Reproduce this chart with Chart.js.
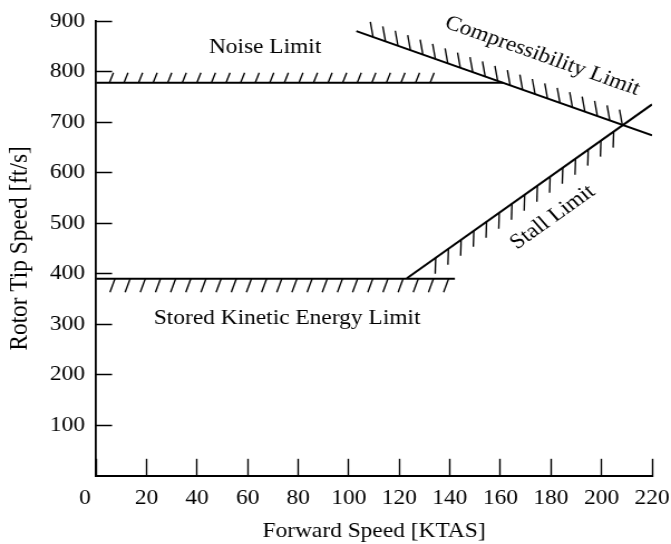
<!DOCTYPE html>
<html><head><meta charset="utf-8">
<script src="https://cdn.jsdelivr.net/npm/chart.js@4"></script>
<style>html,body{margin:0;padding:0;background:#fff;overflow:hidden}</style>
</head><body>
<canvas id="c" width="602" height="544" style="width:671px;height:544px;display:block"></canvas>
<script>
// ---- data ----
const xTicks = [0, 20, 40, 60, 80, 100, 120, 140, 160, 180, 200, 220];
const yTicks = [100, 200, 300, 400, 500, 600, 700, 800, 900];
const xTitle = 'Forward Speed [KTAS]';
const yTitle = 'Rotor Tip Speed [ft/s]';

const noiseLimit    = [{x: 0, y: 778}, {x: 161, y: 778}];
const compressLimit = [{x: 103, y: 880}, {x: 220, y: 674}];
const stallLimit    = [{x: 123, y: 391}, {x: 220, y: 735}];
const storedLimit   = [{x: 0, y: 390}, {x: 142, y: 390}];

// hatch extents along each limit (x range in KTAS, number of marks)
const noiseHatch    = {from: 5.3,   to: 132.2, count: 23};
const compressHatch = {from: 109.6, to: 208.2, count: 21};
const stallHatch    = {from: 134.4, to: 204.8, count: 15};
const storedHatch   = {from: 7.5,   to: 139.5, count: 23};

const labelNames = ['Noise Limit', 'Compressibility Limit', 'Stall Limit', 'Stored Kinetic Energy Limit'];
const labelAnchors = [{x: 66.9, y: 836}, {x: 175.7, y: 820.6}, {x: 182.2, y: 503}, {x: 75.6, y: 300}];

// ---- style ----
const SX = 671 / 602;           // horizontal stretch of the drawing
const FONT = '"Liberation Serif", "Times New Roman", serif';
const FS = 21;
const X_TICK_LEN = -17, X_TICK_PAD = 27;

const limits = [
  {pts: noiseLimit,    hatch: noiseHatch,    dx: 4,    dy: -10},
  {pts: compressLimit, hatch: compressHatch, dx: -2.7, dy: -15},
  {pts: stallLimit,    hatch: stallHatch,    dx: -0.5, dy: 16},
  {pts: storedLimit,   hatch: storedHatch,   dx: -5,   dy: 13.5}
];
const labelAlong = [null, compressLimit, stallLimit, null];

const decor = {
  id: 'decor',
  afterDatasetsDraw(chart) {
    const {ctx, scales: {x, y}} = chart;
    ctx.save();
    ctx.strokeStyle = '#000';
    ctx.lineWidth = 1.35;
    limits.forEach(L => {
      const [p0, p1] = L.pts;
      const n = L.hatch.count;
      for (let i = 0; i < n; i++) {
        const xv = L.hatch.from + (L.hatch.to - L.hatch.from) * i / (n - 1);
        const yv = p0.y + (p1.y - p0.y) * (xv - p0.x) / (p1.x - p0.x);
        const px = x.getPixelForValue(xv), py = y.getPixelForValue(yv);
        ctx.beginPath();
        ctx.moveTo(px, py);
        ctx.lineTo(px + L.dx / SX, py + L.dy);
        ctx.stroke();
      }
    });
    ctx.fillStyle = '#000';
    ctx.font = FS + 'px ' + FONT;
    ctx.textAlign = 'center';
    ctx.textBaseline = 'alphabetic';
    labelNames.forEach((t, i) => {
      const a = labelAnchors[i];
      const px = x.getPixelForValue(a.x), py = y.getPixelForValue(a.y);
      let ang = 0;
      const along = labelAlong[i];
      if (along) {
        const ax0 = x.getPixelForValue(along[0].x), ay0 = y.getPixelForValue(along[0].y);
        const ax1 = x.getPixelForValue(along[1].x), ay1 = y.getPixelForValue(along[1].y);
        ang = Math.atan2(ay1 - ay0, ax1 - ax0);
      }
      ctx.save();
      ctx.translate(px, py);
      ctx.rotate(ang);
      ctx.fillText(t, 0, 0);
      ctx.restore();
    });
    // origin label of the x axis, set slightly left of the corner
    ctx.textBaseline = 'middle';
    ctx.fillText(String(xTicks[0]), x.getPixelForValue(xTicks[0]) - 11 / SX,
      x.top + X_TICK_LEN + X_TICK_PAD + FS * 1.2 / 2);
    ctx.restore();
  }
};

const ds = (data) => ({data, borderColor: '#000', borderWidth: 2, pointRadius: 0, fill: false, tension: 0});

new Chart(document.getElementById('c'), {
  type: 'line',
  data: {datasets: [ds(noiseLimit), ds(compressLimit), ds(stallLimit), ds(storedLimit)]},
  options: {
    responsive: false,
    animation: false,
    devicePixelRatio: 1,
    layout: {padding: {top: 21, right: 17, bottom: 0, left: 0}},
    plugins: {legend: {display: false}, tooltip: {enabled: false}},
    scales: {
      x: {
        type: 'linear', min: 0, max: 220,
        afterBuildTicks: s => { s.ticks = xTicks.map(v => ({value: v})); },
        afterFit: s => { s.height = 68.2; s.paddingLeft = 0; s.paddingRight = 0; },
        ticks: {
          callback: v => (v === xTicks[0] ? '' : String(v)),
          font: {family: FONT, size: FS}, color: '#000', padding: X_TICK_PAD,
          maxRotation: 0, autoSkip: false
        },
        grid: {drawOnChartArea: false, drawTicks: true, tickLength: X_TICK_LEN, tickWidth: 1.4, tickColor: '#000'},
        border: {display: true, width: 2, color: '#000'},
        title: {display: true, text: xTitle, color: '#000', font: {family: FONT, size: FS, lineHeight: 1}, padding: {top: 0, bottom: 2.5}}
      },
      y: {
        type: 'linear', min: 0, max: 900,
        afterBuildTicks: s => { s.ticks = yTicks.map(v => ({value: v})); },
        afterFit: s => { s.width = 86.13; s.paddingTop = 0; s.paddingBottom = 0; },
        ticks: {
          font: {family: FONT, size: FS}, color: '#000', padding: 24.3, autoSkip: false
        },
        grid: {drawOnChartArea: false, drawTicks: true, tickLength: -14.4, tickWidth: 1.5, tickColor: '#000'},
        border: {display: true, width: 1.8, color: '#000'},
        title: {display: true, text: yTitle, color: '#000', font: {family: FONT, size: 23.3, lineHeight: 1}, padding: {top: 6.7, bottom: 0}}
      }
    }
  },
  plugins: [decor]
});
</script>
</body></html>
